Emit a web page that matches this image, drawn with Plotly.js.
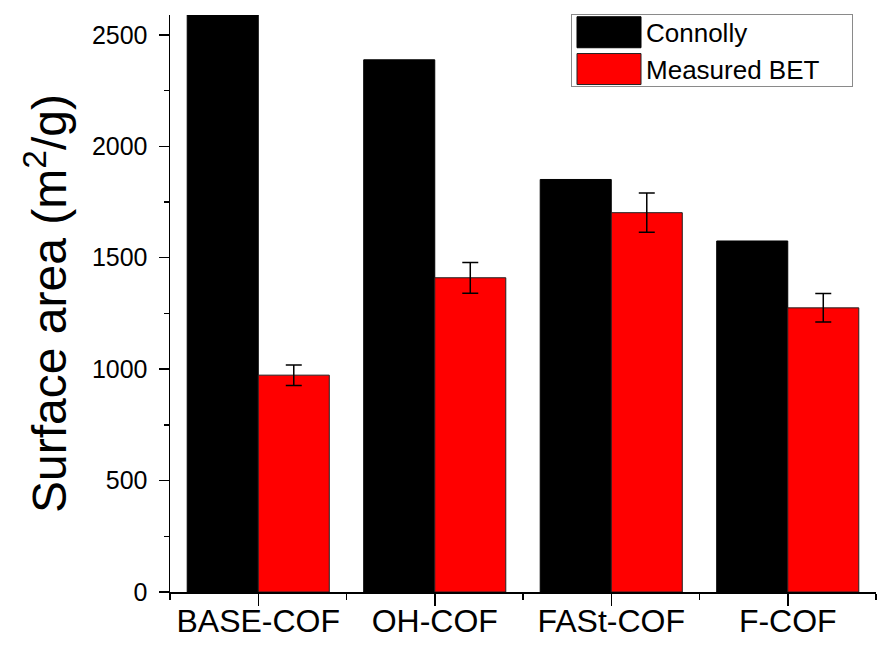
<!DOCTYPE html>
<html>
<head>
<meta charset="utf-8">
<script src="https://cdn.plot.ly/plotly-3.0.1.min.js"></script>
<style>
html,body{margin:0;padding:0;background:#fff;}
#chart{width:883px;height:655px;}
</style>
</head>
<body>
<div id="chart"></div>
<script>
const categories = ["BASE-COF", "OH-COF", "FASt-COF", "F-COF"];
const connolly = [2589, 2388, 1851, 1575];
const measuredBET = [973, 1410, 1702, 1275];
const measuredErr = [46, 69, 88, 64];
const seriesNames = ["Connolly", "Measured BET"];
const yTickVals = [0, 500, 1000, 1500, 2000, 2500];

const xPos = categories.map((c, i) => i);
const FONT = '"Liberation Sans", Arial, sans-serif';

const traces = [
  {
    type: 'bar', name: seriesNames[0], x: xPos, y: connolly,
    marker: {color: '#000000', line: {color: '#000000', width: 1}}
  },
  {
    type: 'bar', name: seriesNames[1], x: xPos, y: measuredBET,
    marker: {color: '#ff0000', line: {color: '#222222', width: 1}},
    error_y: {type: 'data', array: measuredErr, visible: true, color: '#000000', thickness: 1.5, width: 8}
  }
];

const layout = {
  width: 883, height: 655,
  margin: {l: 170, r: 7, t: 15, b: 63},
  paper_bgcolor: '#ffffff', plot_bgcolor: '#ffffff',
  font: {family: FONT, color: '#000000'},
  barmode: 'group', bargap: 0.195, bargroupgap: 0,
  showlegend: true,
  legend: {
    x: 0.568, xanchor: 'left', y: 1.002, yanchor: 'top',
    bgcolor: '#ffffff', bordercolor: '#8a8a8a', borderwidth: 1,
    font: {family: FONT, size: 26, color: '#000000'},
    itemwidth: 64, tracegroupgap: 0,
    itemclick: false, itemdoubleclick: false
  },
  xaxis: {
    type: 'linear', range: [-0.5, 3.5],
    tickmode: 'array', tickvals: xPos, ticktext: categories,
    ticks: 'outside', ticklen: 12, tickwidth: 1.5, tickcolor: '#000',
    minor: {tickmode: 'linear', tick0: -0.5, dtick: 1, ticks: 'outside', ticklen: 6, tickwidth: 1.5, tickcolor: '#000'},
    showline: true, linecolor: '#000', linewidth: 1.5,
    showgrid: false, zeroline: false,
    tickfont: {family: FONT, size: 32, color: '#000'},
    ticklabelstandoff: -12,
    fixedrange: true
  },
  yaxis: {
    range: [0, 2589],
    tickmode: 'array', tickvals: yTickVals,
    ticks: 'outside', ticklen: 10, tickwidth: 1.5, tickcolor: '#000',
    minor: {tickmode: 'linear', tick0: 250, dtick: 500, ticks: 'outside', ticklen: 5, tickwidth: 1.5, tickcolor: '#000'},
    showline: true, linecolor: '#000', linewidth: 1.5,
    showgrid: false, zeroline: false,
    tickfont: {family: FONT, size: 25, color: '#000'},
    ticklabelstandoff: 6,
    title: {text: 'Surface area (m<sup>2</sup>/g)', font: {family: FONT, size: 48, color: '#000'}, standoff: 10},
    automargin: false,
    fixedrange: true
  }
};

Plotly.newPlot('chart', traces, layout, {displayModeBar: false, staticPlot: true}).then(function (gd) {
  // enlarge legend swatches to the wide rectangular keys of the reference
  gd.querySelectorAll('.legend .legendpoints path').forEach(function (p) {
    p.setAttribute('d', 'M-32,-15.5h64v31h-64Z');
  });
  // tighten the legend box like the reference (no inner padding)
  const leg = gd.querySelector('.legend');
  if (leg) {
    const bg = leg.querySelector('rect.bg');
    const sb = leg.querySelector('.scrollbox');
    if (bg) { bg.setAttribute('height', '72'); bg.setAttribute('width', '281'); }
    if (sb) {
      const t = sb.getAttribute('transform') || '';
      sb.setAttribute('transform', 'translate(0,-6) ' + t);
    }
  }
});
</script>
</body>
</html>
